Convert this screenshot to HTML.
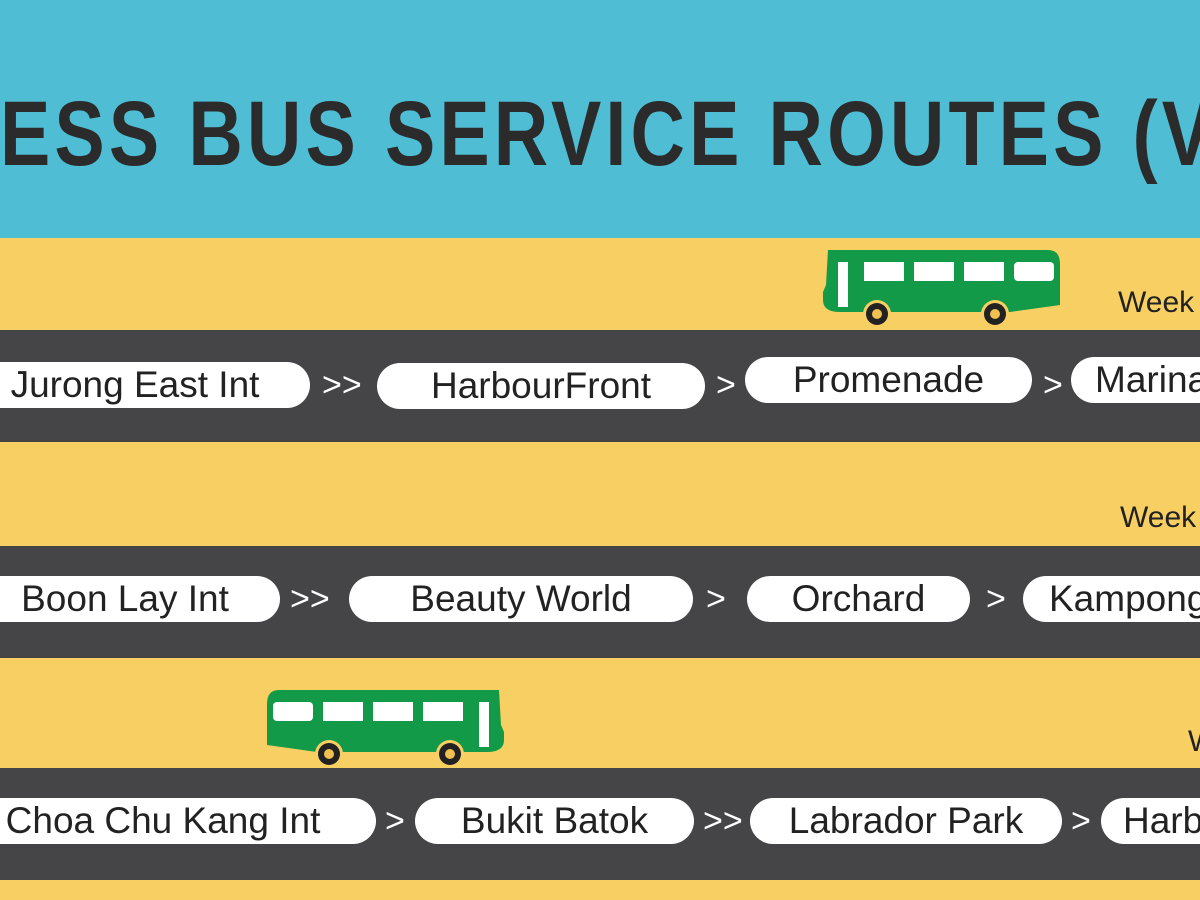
<!DOCTYPE html>
<html><head><style>
html,body{margin:0;padding:0;overflow:hidden}
#w{width:1200px;height:900px;overflow:hidden;background:#f7cf62;position:relative;font-family:"Liberation Sans",sans-serif}
.hdr{position:absolute;left:0;top:0;width:1200px;height:238px;background:#4fbdd4}
.title{position:absolute;left:0px;top:88px;font-size:92px;font-weight:bold;color:#2b2b2b;white-space:nowrap;letter-spacing:5px;line-height:1;transform:scaleX(0.82);transform-origin:left}
.road{position:absolute;left:0;width:1200px;height:112px;background:#454547}
.pill{position:absolute;height:46px;background:#fff;border-radius:23px;color:#222;font-size:37px;line-height:46px;text-align:center;white-space:nowrap;overflow:hidden}
.arr{position:absolute;color:#fff;font-size:34px;line-height:46px}
.wk{position:absolute;font-size:30px;color:#222;white-space:nowrap}
</style></head><body><div id="w">
<div class="hdr"></div>
<div class="title">ESS BUS SERVICE ROUTES (V</div>
<div class="wk" style="left:1118px;top:286px">Week</div>
<div class="wk" style="left:1120px;top:501px">Week</div>
<div class="wk" style="left:1188px;top:725px">W</div>
<div class="road" style="top:330px"></div>
<div class="road" style="top:546px"></div>
<div class="road" style="top:768px"></div>

<div class="pill" style="left:-40px;top:362px;width:350px">Jurong East Int</div>
<div class="arr" style="left:322px;top:362px">&gt;&gt;</div>
<div class="pill" style="left:377px;top:363px;width:328px">HarbourFront</div>
<div class="arr" style="left:716px;top:362px">&gt;</div>
<div class="pill" style="left:745px;top:357px;width:287px">Promenade</div>
<div class="arr" style="left:1043px;top:362px">&gt;</div>
<div class="pill" style="left:1071px;top:357px;width:129px;border-radius:23px 0 0 23px;text-align:left;padding-left:24px;box-sizing:border-box">Marina</div>

<div class="pill" style="left:-30px;top:576px;width:310px">Boon Lay Int</div>
<div class="arr" style="left:290px;top:576px">&gt;&gt;</div>
<div class="pill" style="left:349px;top:576px;width:344px">Beauty World</div>
<div class="arr" style="left:706px;top:576px">&gt;</div>
<div class="pill" style="left:747px;top:576px;width:223px">Orchard</div>
<div class="arr" style="left:986px;top:576px">&gt;</div>
<div class="pill" style="left:1023px;top:576px;width:177px;border-radius:23px 0 0 23px;text-align:left;padding-left:26px;box-sizing:border-box">Kampong</div>

<div class="pill" style="left:-50px;top:798px;width:426px">Choa Chu Kang Int</div>
<div class="arr" style="left:385px;top:798px">&gt;</div>
<div class="pill" style="left:415px;top:798px;width:279px">Bukit Batok</div>
<div class="arr" style="left:703px;top:798px">&gt;&gt;</div>
<div class="pill" style="left:750px;top:798px;width:312px">Labrador Park</div>
<div class="arr" style="left:1071px;top:798px">&gt;</div>
<div class="pill" style="left:1101px;top:798px;width:99px;border-radius:23px 0 0 23px;text-align:left;padding-left:22px;box-sizing:border-box">Harbour</div>

<svg style="position:absolute;left:0;top:0" width="1200" height="900">
 <g>
  <path d="M828 250 H1048 Q1060 250 1060 264 V305 L1010 312 H840 Q823 312 823 300 V292 L826 285 Z" fill="#129a48"/>
  <rect x="838" y="262" width="10" height="45" fill="#fff"/>
  <rect x="864" y="262" width="40" height="19" fill="#fff"/>
  <rect x="914" y="262" width="40" height="19" fill="#fff"/>
  <rect x="964" y="262" width="40" height="19" fill="#fff"/>
  <rect x="1014" y="262" width="40" height="19" rx="4" fill="#fff"/>
  <circle cx="877" cy="314" r="14" fill="#f7cf62"/><circle cx="877" cy="314" r="11" fill="#222"/><circle cx="877" cy="314" r="5" fill="#f0c050"/>
  <circle cx="995" cy="314" r="14" fill="#f7cf62"/><circle cx="995" cy="314" r="11" fill="#222"/><circle cx="995" cy="314" r="5" fill="#f0c050"/>
 </g>
 <g transform="translate(1327,440) scale(-1,1)">
  <path d="M828 250 H1048 Q1060 250 1060 264 V305 L1010 312 H840 Q823 312 823 300 V292 L826 285 Z" fill="#129a48"/>
  <rect x="838" y="262" width="10" height="45" fill="#fff"/>
  <rect x="864" y="262" width="40" height="19" fill="#fff"/>
  <rect x="914" y="262" width="40" height="19" fill="#fff"/>
  <rect x="964" y="262" width="40" height="19" fill="#fff"/>
  <rect x="1014" y="262" width="40" height="19" rx="4" fill="#fff"/>
  <circle cx="877" cy="314" r="14" fill="#f7cf62"/><circle cx="877" cy="314" r="11" fill="#222"/><circle cx="877" cy="314" r="5" fill="#f0c050"/>
  <circle cx="998" cy="314" r="14" fill="#f7cf62"/><circle cx="998" cy="314" r="11" fill="#222"/><circle cx="998" cy="314" r="5" fill="#f0c050"/>
 </g>
</svg>
</div></body></html>
